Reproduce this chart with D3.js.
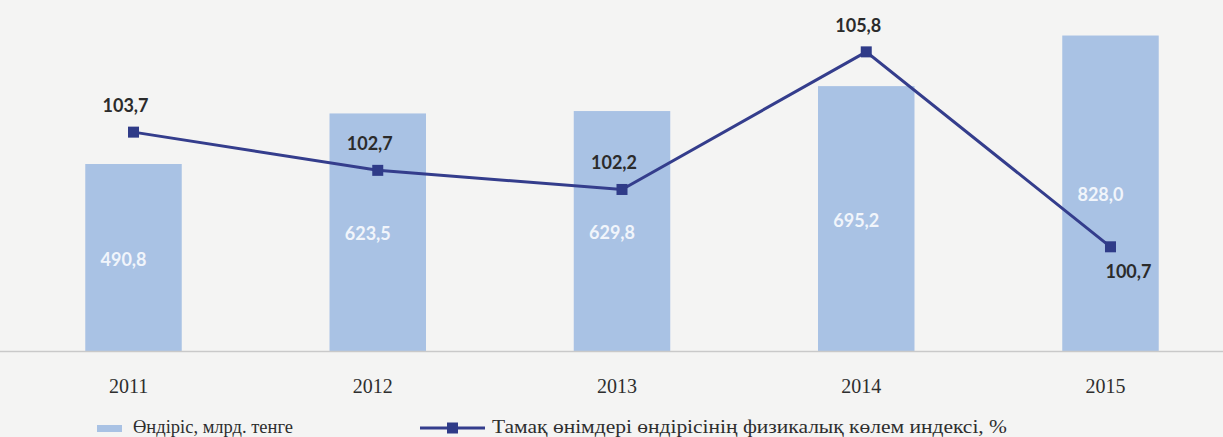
<!DOCTYPE html>
<html>
<head>
	<script src="https://cdn.jsdelivr.net/npm/d3@7"></script>
	<style>
		html, body {
			padding: 0;
			margin: 0;
			background: #f4f4f3;
		}
	</style>
</head>
<body>
	<script>
		// data
		var years = ["2011", "2012", "2013", "2014", "2015"];
		var output = [490.8, 623.5, 629.8, 695.2, 828.0];          // млрд. тенге
		var volumeIndex = [103.7, 102.7, 102.2, 105.8, 100.7];     // %
		var barLegend = "Өндіріс, млрд. тенге";
		var lineLegend = "Тамақ өнімдері өндірісінің физикалық көлем индексі, %";

		var width = 1223, height = 437;
		var baseY = 351;

		var fmt = function(v) { return v.toFixed(1).replace(".", ","); };

		var svg = d3.select("body").append("svg")
			.attr("width", width)
			.attr("height", height)
			.style("display", "block")
			.style("background", "#f4f4f3");

		var x = d3.scaleBand()
			.domain(years)
			.range([12, 1232])
			.paddingInner(0.605)
			.paddingOuter(0.3);

		var yBar = d3.scaleLinear()
			.domain([0, 900])
			.range([baseY, baseY - 900 * 0.381]);

		var yLine = d3.scaleLinear()
			.domain([98, 107])
			.range([350, 6]);

		var cx = function(d, i) { return x(years[i]) + x.bandwidth() / 2; };

		/* bars */
		svg.selectAll("rect.bar")
			.data(output)
			.enter().append("rect")
			.attr("class", "bar")
			.attr("x", function(d, i) { return x(years[i]); })
			.attr("y", function(d) { return yBar(d); })
			.attr("width", x.bandwidth())
			.attr("height", function(d) { return baseY - yBar(d); })
			.attr("fill", "#a9c2e4");

		/* bar labels */
		svg.selectAll("text.barlab")
			.data(output)
			.enter().append("text")
			.attr("class", "barlab")
			.attr("x", function(d, i) { return cx(d, i) - 10; })
			.attr("y", function(d) { return (yBar(d) + baseY) / 2 + 8; })
			.attr("text-anchor", "middle")
			.style("font-family", "Lato, 'Open Sans', sans-serif")
			.style("font-weight", "bold")
			.style("font-size", "18px")
			.style("fill", "#f1f5fb")
			.text(fmt);

		/* x axis */
		var axis = svg.append("g")
			.attr("transform", "translate(0," + baseY + ")")
			.call(d3.axisBottom(x).tickSize(0).tickPadding(0));
		axis.select(".domain")
			.attr("d", "M0,0.5H" + width)
			.attr("stroke", "#c9c9c9")
			.attr("stroke-width", 1.5);
		axis.selectAll(".tick text")
			.attr("dx", -5)
			.attr("dy", 0)
			.attr("y", 42)
			.style("font-family", "'Liberation Serif', 'Times New Roman', serif")
			.style("font-size", "20px")
			.style("fill", "#2e2e2e");

		/* line */
		var line = d3.line()
			.x(function(d, i) { return cx(d, i); })
			.y(function(d) { return yLine(d); });

		svg.append("path")
			.datum(volumeIndex)
			.attr("d", line)
			.attr("fill", "none")
			.attr("stroke", "#343d8c")
			.attr("stroke-width", 3);

		svg.selectAll("rect.mark")
			.data(volumeIndex)
			.enter().append("rect")
			.attr("class", "mark")
			.attr("x", function(d, i) { return cx(d, i) - 5.5; })
			.attr("y", function(d) { return yLine(d) - 5.5; })
			.attr("width", 11)
			.attr("height", 11)
			.attr("fill", "#2f3b88");

		/* line labels: last one sits below the point */
		svg.selectAll("text.linelab")
			.data(volumeIndex)
			.enter().append("text")
			.attr("class", "linelab")
			.attr("x", function(d, i) { return cx(d, i) + (i == volumeIndex.length - 1 ? 18 : -8); })
			.attr("y", function(d, i) { return yLine(d) + (i == volumeIndex.length - 1 ? 31 : -20); })
			.attr("text-anchor", "middle")
			.style("font-family", "Lato, 'Open Sans', sans-serif")
			.style("font-weight", "bold")
			.style("font-size", "18px")
			.style("fill", "#2b2b2b")
			.text(fmt);

		/* legend */
		var legY = 428;
		svg.append("rect")
			.attr("x", 97)
			.attr("y", legY - 3)
			.attr("width", 25)
			.attr("height", 7)
			.attr("fill", "#a9c2e4");
		svg.append("text")
			.attr("x", 133)
			.attr("y", legY + 5)
			.attr("textLength", 160)
			.attr("lengthAdjust", "spacingAndGlyphs")
			.style("font-family", "'Liberation Serif', 'Times New Roman', serif")
			.style("font-size", "19px")
			.style("fill", "#2e2e2e")
			.text(barLegend);

		svg.append("line")
			.attr("x1", 420).attr("x2", 485)
			.attr("y1", legY).attr("y2", legY)
			.attr("stroke", "#343d8c")
			.attr("stroke-width", 3);
		svg.append("rect")
			.attr("x", 447).attr("y", legY - 5.5)
			.attr("width", 11).attr("height", 11)
			.attr("fill", "#2f3b88");
		svg.append("text")
			.attr("x", 492)
			.attr("y", legY + 5)
			.attr("textLength", 515)
			.attr("lengthAdjust", "spacingAndGlyphs")
			.style("font-family", "'Liberation Serif', 'Times New Roman', serif")
			.style("font-size", "19px")
			.style("fill", "#2e2e2e")
			.text(lineLegend);
	</script>
</body>
</html>
